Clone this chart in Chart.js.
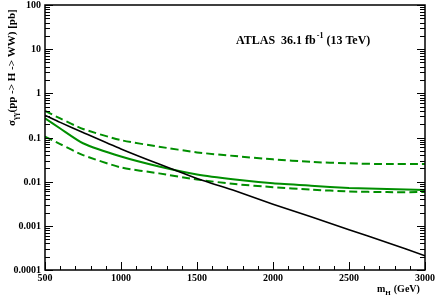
<!DOCTYPE html>
<html lang="en">
<head>
  <meta charset="UTF-8" />
  <title>ATLAS H -> WW limit</title>
  <script src="https://cdn.jsdelivr.net/npm/chart.js"></script>
  <style>
    body {
      margin: 0;
      background: #fff;
    }
    #wrap {
      width: 436px;
      height: 300px;
    }
  </style>
</head>
<body>
  <div id="wrap"><canvas id="limit-chart" width="436" height="300"></canvas></div>

  <script>
    // mass points (GeV) and cross sections (pb)
    const massPoints = [500, 600, 750, 1000, 1250, 1500, 1750, 2000, 2250, 2500, 2750, 3000];
    const theoryXsec = [0.32, 0.22, 0.13, 0.055, 0.025, 0.0118, 0.0062, 0.0031, 0.0016, 0.00082, 0.00042, 0.00021];
    const observedLimit = [0.272, 0.16, 0.074, 0.037, 0.022, 0.0145, 0.0112, 0.0092, 0.0081, 0.0072, 0.0068, 0.0065];
    const upperBand = [0.40, 0.27, 0.156, 0.087, 0.062, 0.046, 0.038, 0.032, 0.028, 0.026, 0.025, 0.025];
    const lowerBand = [0.105, 0.071, 0.040, 0.021, 0.0154, 0.0112, 0.0088, 0.0075, 0.0066, 0.006, 0.0058, 0.0058];

    const xTicks = [500, 1000, 1500, 2000, 2500, 3000];
    const yTicks = [0.0001, 0.001, 0.01, 0.1, 1, 10, 100];
    const yTickLabels = ["0.0001", "0.001", "0.01", "0.1", "1", "10", "100"];

    const green = "#008f00";
    const serif = "'Liberation Serif', 'DejaVu Serif', serif";

    function toPoints(values) {
      return massPoints.map((m, i) => ({ x: m, y: values[i] }));
    }

    // inward ticks, frame, tick labels and the texts
    const framePlugin = {
      id: "frame",
      afterDraw(chart) {
        const ctx = chart.ctx;
        const area = chart.chartArea;
        const xs = chart.scales.x;
        const ys = chart.scales.y;
        ctx.save();
        ctx.strokeStyle = "#000";
        ctx.lineWidth = 1.5;
        ctx.strokeRect(area.left, area.top, area.right - area.left, area.bottom - area.top);

        ctx.lineWidth = 1;
        ctx.beginPath();
        // x ticks every 100 GeV, bottom only
        for (let m = 500; m <= 3000; m += 100) {
          const px = Math.round(xs.getPixelForValue(m)) + 0.5;
          const len = m % 500 === 0 ? 8 : 4;
          ctx.moveTo(px, area.bottom);
          ctx.lineTo(px, area.bottom - len);
        }
        // y ticks, left and right
        for (let d = -4; d <= 2; d++) {
          for (let k = 1; k <= 9; k++) {
            const v = k * Math.pow(10, d);
            if (v > 100) break;
            const py = Math.round(ys.getPixelForValue(v)) + 0.5;
            const len = k === 1 ? 8 : 5;
            ctx.moveTo(area.left, py);
            ctx.lineTo(area.left + len, py);
            ctx.moveTo(area.right, py);
            ctx.lineTo(area.right - len, py);
          }
        }
        ctx.stroke();

        ctx.fillStyle = "#000";

        // tick labels
        ctx.font = "bold 10px " + serif;
        ctx.textAlign = "right";
        ctx.textBaseline = "middle";
        yTicks.forEach((v, i) => {
          ctx.fillText(yTickLabels[i], area.left - 4, ys.getPixelForValue(v) + 0.5);
        });
        ctx.textAlign = "center";
        ctx.textBaseline = "top";
        xTicks.forEach(v => {
          ctx.fillText(String(v), xs.getPixelForValue(v), area.bottom + 3);
        });

        ctx.textAlign = "left";
        ctx.textBaseline = "alphabetic";

        // ATLAS label
        ctx.font = "bold 12px " + serif;
        let tx = 236;
        const ty = 44;
        ctx.fillText("ATLAS  36.1 fb", tx, ty);
        tx += ctx.measureText("ATLAS  36.1 fb").width;
        ctx.font = "bold 8px " + serif;
        ctx.fillText("-1", tx + 1, ty - 6);
        tx += ctx.measureText("-1").width + 4;
        ctx.font = "bold 12px " + serif;
        ctx.fillText("(13 TeV)", tx, ty);

        // x title
        ctx.font = "bold 10px " + serif;
        let mx = 377;
        const my = 292;
        ctx.fillText("m", mx, my);
        mx += ctx.measureText("m").width;
        ctx.font = "bold 7px " + serif;
        ctx.fillText("H", mx, my + 3);
        mx += ctx.measureText("H").width + 3;
        ctx.font = "bold 10px " + serif;
        ctx.fillText("(GeV)", mx, my);

        // y title, rotated, ending near the top of the axis
        ctx.translate(15, 126);
        ctx.rotate(-Math.PI / 2);
        ctx.font = "bold 11px " + serif;
        let yx = 0;
        ctx.fillText("σ", yx, 0);
        yx += ctx.measureText("σ").width;
        ctx.font = "bold 8px " + serif;
        ctx.fillText("γγ", yx, 3);
        yx += ctx.measureText("γγ").width;
        ctx.font = "bold 11px " + serif;
        ctx.fillText("(pp -> H -> WW) [pb]", yx, 0);
        ctx.restore();
      }
    };

    const ctx = document.getElementById("limit-chart").getContext("2d");
    new Chart(ctx, {
      type: "line",
      data: {
        datasets: [
          {
            label: "theory",
            data: toPoints(theoryXsec),
            borderColor: "#000",
            borderWidth: 1.6
          },
          {
            label: "observed",
            data: toPoints(observedLimit),
            borderColor: green,
            borderWidth: 2
          },
          {
            label: "upper",
            data: toPoints(upperBand),
            borderColor: green,
            borderWidth: 2,
            borderDash: [8, 4]
          },
          {
            label: "lower",
            data: toPoints(lowerBand),
            borderColor: green,
            borderWidth: 2,
            borderDash: [8, 4]
          }
        ]
      },
      options: {
        responsive: false,
        animation: false,
        layout: { padding: { top: 5, right: 11, left: 0, bottom: 0 } },
        elements: { point: { radius: 0 }, line: { tension: 0.2 } },
        plugins: {
          legend: { display: false },
          tooltip: { enabled: false }
        },
        scales: {
          x: {
            type: "linear",
            min: 500,
            max: 3000,
            grid: { display: false },
            border: { display: false },
            ticks: { display: false },
            afterBuildTicks: scale => {
              scale.ticks = xTicks.map(v => ({ value: v }));
            },
            afterFit: scale => {
              scale.height = 30;
            }
          },
          y: {
            type: "logarithmic",
            min: 0.0001,
            max: 100,
            grid: { display: false },
            border: { display: false },
            ticks: { display: false },
            afterBuildTicks: scale => {
              scale.ticks = yTicks.map(v => ({ value: v }));
            },
            afterFit: scale => {
              scale.width = 45;
            }
          }
        }
      },
      plugins: [framePlugin]
    });
  </script>
</body>
</html>
